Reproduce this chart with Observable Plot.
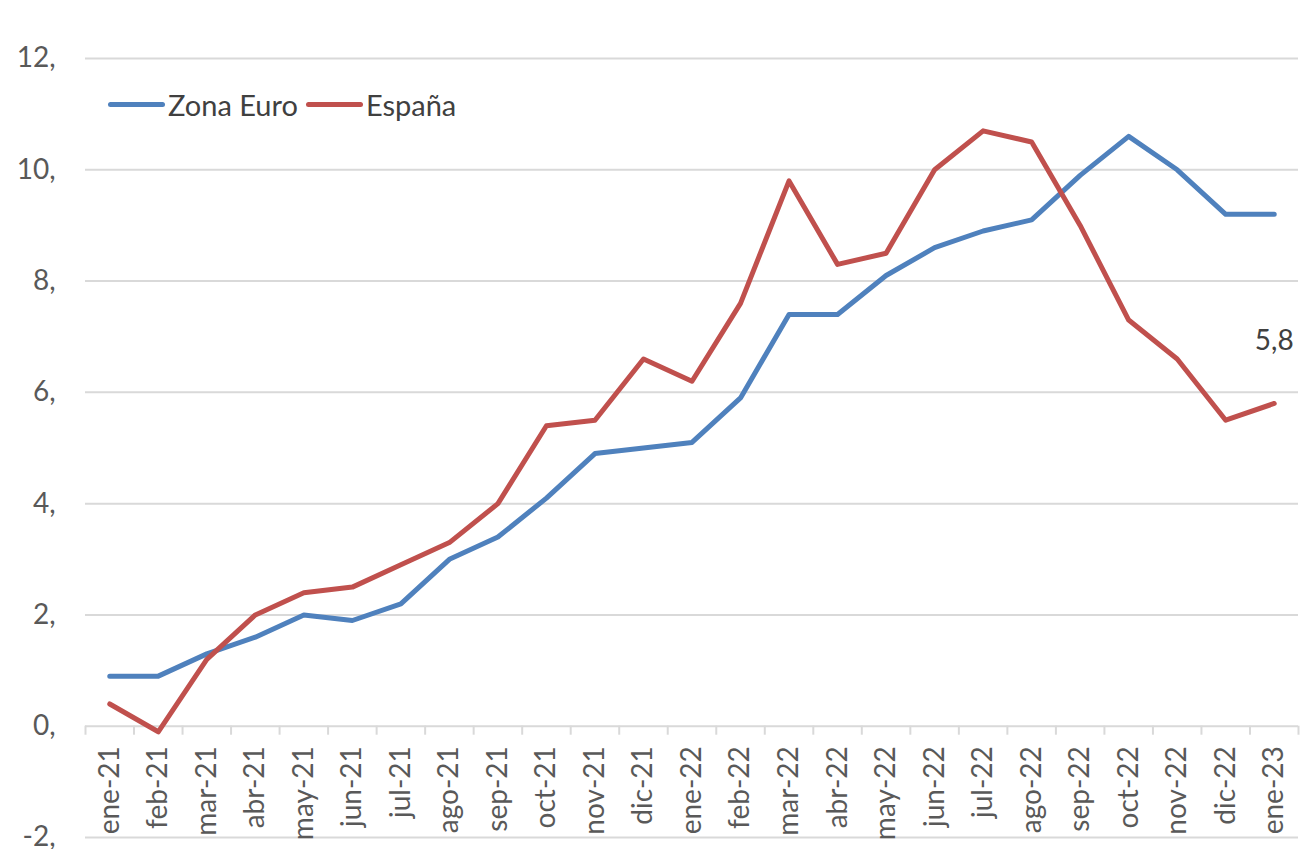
<!DOCTYPE html>
<html>
<head>
<meta charset="utf-8">
<script src="https://cdn.jsdelivr.net/npm/d3@7"></script>
<script src="https://cdn.jsdelivr.net/npm/@observablehq/plot@0.6"></script>
<style>
  body { margin: 0; background: #fff; }
  #wrap { position: relative; width: 1301px; height: 849px; font-family: Lato, "Open Sans", sans-serif; }
  #legend { position: absolute; left: 108px; top: 87px; display: flex; align-items: center; font-size: 29px; color: #404040; }
  .sw { display: inline-block; width: 57px; height: 5px; border-radius: 3px; margin-right: 3px; }
  .item { display: flex; align-items: center; margin-right: 8px; }
</style>
</head>
<body>
<div id="wrap">
  <div id="chart"></div>
  <div id="legend"></div>
</div>
<script>
const months = ["ene-21","feb-21","mar-21","abr-21","may-21","jun-21","jul-21","ago-21","sep-21","oct-21","nov-21","dic-21",
  "ene-22","feb-22","mar-22","abr-22","may-22","jun-22","jul-22","ago-22","sep-22","oct-22","nov-22","dic-22","ene-23"];
const zonaEuro = [0.9,0.9,1.3,1.6,2.0,1.9,2.2,3.0,3.4,4.1,4.9,5.0,5.1,5.9,7.4,7.4,8.1,8.6,8.9,9.1,9.9,10.6,10.0,9.2,9.2];
const espana   = [0.4,-0.1,1.2,2.0,2.4,2.5,2.9,3.3,4.0,5.4,5.5,6.6,6.2,7.6,9.8,8.3,8.5,10.0,10.7,10.5,9.0,7.3,6.6,5.5,5.8];
const yTicks = [-2,0,2,4,6,8,10,12];
const yTickLabels = ["-2,","0,","2,","4,","6,","8,","10,","12,"];
const seriesNames = ["Zona Euro","España"];
const seriesColors = ["#4F81BD","#C0504D"];

const data = months.map((m,i)=>({i, m, ze: zonaEuro[i], es: espana[i]}));
const boundaries = d3.range(months.length + 1).map(i => i - 0.5);
const last = data[data.length - 1];

const chart = Plot.plot({
  width: 1301,
  height: 849,
  marginLeft: 85,
  marginRight: 3,
  marginTop: 58,
  marginBottom: 12,
  style: {fontFamily: "Lato, 'Open Sans', sans-serif", background: "#fff"},
  x: {type: "linear", domain: [-0.5, months.length - 0.5], axis: null},
  y: {domain: [-2, 12], axis: null},
  marks: [
    Plot.ruleY(yTicks, {stroke: "#d9d9d9", strokeWidth: 2}),
    Plot.ruleX(boundaries, {x: d => d, y1: 0, y2: 0, insetBottom: -9, stroke: "#d9d9d9", strokeWidth: 2}),
    Plot.text(yTicks, {y: d => d, text: (d,i) => yTickLabels[i], frameAnchor: "left", textAnchor: "end", dx: -30, fontSize: 28, fill: "#595959"}),
    Plot.text(data, {x: "i", y: () => 0, text: "m", rotate: -90, textAnchor: "end", dy: 20, fontSize: 28, fill: "#595959"}),
    Plot.line(data, {x: "i", y: "ze", stroke: seriesColors[0], strokeWidth: 5, strokeLinejoin: "round", strokeLinecap: "round"}),
    Plot.line(data, {x: "i", y: "es", stroke: seriesColors[1], strokeWidth: 5, strokeLinejoin: "round", strokeLinecap: "round"}),
    Plot.text([last], {x: "i", y: "es", text: d => String(d.es).replace(".", ","), dy: -62, fontSize: 28, fill: "#404040"})
  ]
});
document.getElementById("chart").appendChild(chart);

const legend = document.getElementById("legend");
seriesNames.forEach((n, k) => {
  const it = document.createElement("div");
  it.className = "item";
  const sw = document.createElement("span");
  sw.className = "sw";
  sw.style.background = seriesColors[k];
  it.appendChild(sw);
  it.appendChild(document.createTextNode(n));
  legend.appendChild(it);
});
</script>
</body>
</html>
